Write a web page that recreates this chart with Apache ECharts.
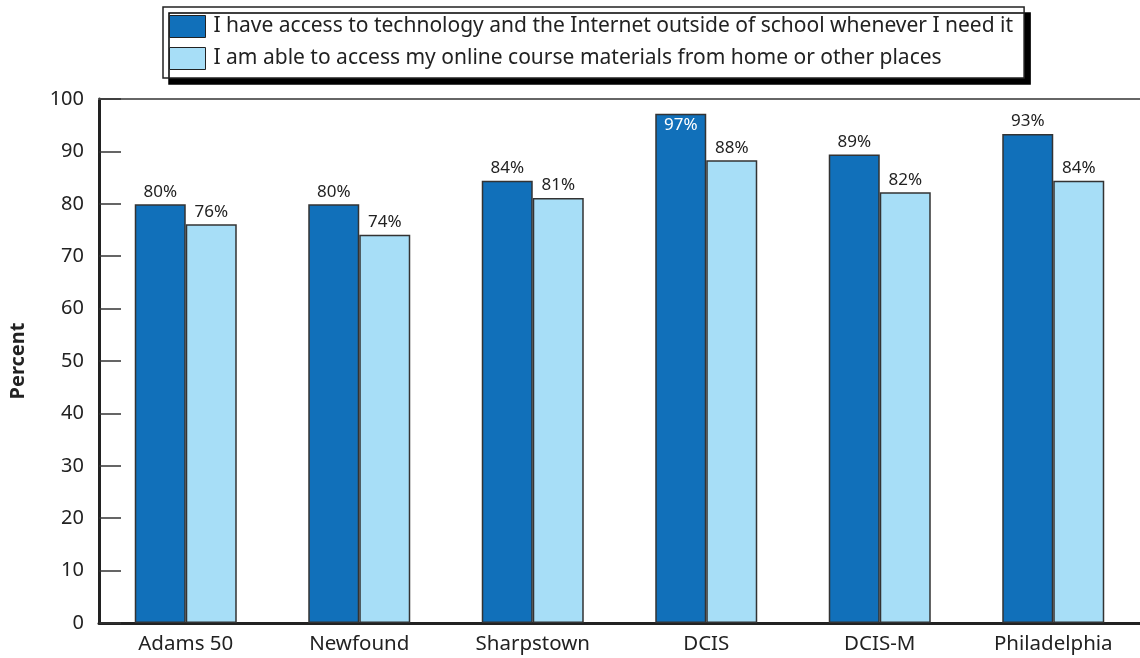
<!DOCTYPE html>
<html>
<head>
<meta charset="utf-8">
<script src="https://cdn.jsdelivr.net/npm/echarts@6/dist/echarts.min.js"></script>
<style>
html,body{margin:0;padding:0;background:#fff;}
#chart{width:1140px;height:658px;}
</style>
</head>
<body>
<div id="chart"></div>
<script>
var categories = ['Adams 50', 'Newfound', 'Sharpstown', 'DCIS', 'DCIS-M', 'Philadelphia'];
var seriesNames = [
  'I have access to technology and the Internet outside of school whenever I need it',
  'I am able to access my online course materials from home or other places'
];
var accessTech = [79.9, 79.9, 84.4, 97.2, 89.4, 93.3];
var accessCourse = [76.1, 74.1, 81.1, 88.3, 82.2, 84.4];
var yTicks = [0, 10, 20, 30, 40, 50, 60, 70, 80, 90, 100];

var font = '"Noto Sans", "Open Sans", sans-serif';
var chart = echarts.init(document.getElementById('chart'));

function lbl(params) { return Math.round(params.value) + '%'; }

var darkData = accessTech.map(function (v) {
  if (v > 95) {
    return { value: v, label: { position: 'insideTop', color: '#ffffff', distance: 3 } };
  }
  return v;
});

chart.setOption({
  animation: false,
  textStyle: { fontFamily: font },
  legend: {
    orient: 'vertical',
    left: 163,
    top: 7,
    padding: [8, 11, 8, 6],
    itemGap: 9,
    itemWidth: 36,
    itemHeight: 22,
    icon: 'rect',
    backgroundColor: '#ffffff',
    borderColor: '#222',
    borderWidth: 1.5,
    shadowColor: '#000',
    shadowBlur: 0,
    shadowOffsetX: 6,
    shadowOffsetY: 6,
    itemStyle: { borderColor: '#222', borderWidth: 1 },
    textStyle: { fontSize: 21, lineHeight: 22, color: '#222', fontFamily: font, padding: [0, 0, 0, 3] },
    data: seriesNames
  },
  grid: { left: 95, right: 0, top: 99, bottom: 35, containLabel: false },
  xAxis: [{
    type: 'category',
    data: categories,
    axisLine: { lineStyle: { color: '#222', width: 3 } },
    axisTick: { show: false },
    axisLabel: { fontSize: 20.5, color: '#222', margin: 11 }
  }, {
    type: 'category',
    position: 'top',
    data: categories,
    axisLine: { lineStyle: { color: '#666', width: 2 } },
    axisTick: { show: false },
    axisLabel: { show: false }
  }],
  yAxis: {
    type: 'value',
    min: yTicks[0],
    max: yTicks[yTicks.length - 1],
    interval: 10,
    name: 'Percent',
    nameLocation: 'middle',
    nameGap: 71,
    nameTextStyle: { fontSize: 20, fontWeight: 'bold', color: '#222' },
    axisLine: { show: true, lineStyle: { color: '#222', width: 3 } },
    axisTick: { show: true, inside: true, length: 22, lineStyle: { color: '#333', width: 1.5 } },
    axisLabel: { fontSize: 20, color: '#222', margin: 15 },
    splitLine: { show: false }
  },
  series: [{
    name: seriesNames[0],
    type: 'bar',
    data: darkData,
    barWidth: 51,
    barGap: '0%',
    itemStyle: { color: '#1170BA', borderColor: '#333', borderWidth: 1.5 },
    label: { show: true, position: 'top', distance: 4, fontSize: 17, color: '#222', formatter: lbl }
  }, {
    name: seriesNames[1],
    type: 'bar',
    data: accessCourse,
    barWidth: 51,
    barGap: '0%',
    itemStyle: { color: '#A7DEF7', borderColor: '#333', borderWidth: 1.5 },
    label: { show: true, position: 'top', distance: 4, fontSize: 17, color: '#222', formatter: lbl }
  }]
});
</script>
</body>
</html>
